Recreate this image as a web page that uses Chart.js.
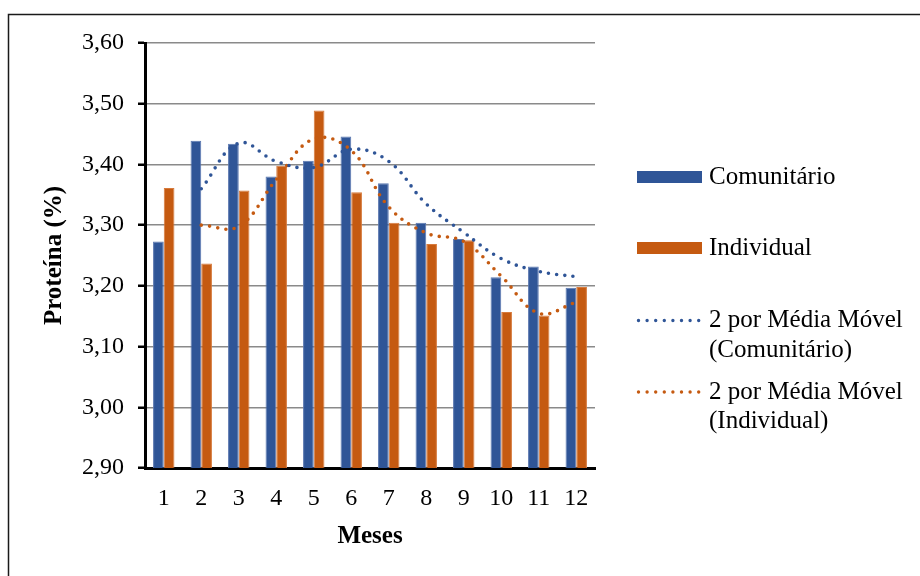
<!DOCTYPE html>
<html lang="pt">
<head>
<meta charset="utf-8">
<title>Proteína (%) por mês</title>
<script src="https://cdn.jsdelivr.net/npm/chart.js@4.4.1/dist/chart.umd.min.js"></script>
<style>
  html, body { margin: 0; padding: 0; background: #fff; }
  #wrap { width: 920px; height: 576px; position: relative; }
</style>
</head>
<body>
<div id="wrap"><canvas id="chart" width="920" height="576"></canvas></div>
<script>
// Meses do ano
const months = ['1', '2', '3', '4', '5', '6', '7', '8', '9', '10', '11', '12'];

// Teor de proteína (%) por tipo de tanque
const comunitario = [3.273, 3.439, 3.434, 3.380, 3.406, 3.446, 3.369, 3.304, 3.277, 3.214, 3.232, 3.197];
const individual  = [3.361, 3.237, 3.357, 3.398, 3.489, 3.354, 3.304, 3.269, 3.275, 3.157, 3.151, 3.198];

// Linhas de tendência: média móvel de 2 períodos
const mmComunitario = [null, 3.360, 3.435, 3.405, 3.395, 3.425, 3.405, 3.335, 3.288, 3.245, 3.224, 3.215];
const mmIndividual  = [null, 3.300, 3.298, 3.375, 3.442, 3.423, 3.330, 3.287, 3.273, 3.216, 3.155, 3.173];

// Nomes das séries (as linhas de tendência ocupam duas linhas na legenda)
const seriesNames = ['Comunitário', 'Individual'];
const trendNames = [['2 por Média Móvel', '(Comunitário)'], ['2 por Média Móvel', '(Individual)']];

// Escala do eixo de proteína
const yMin = 2.9, yMax = 3.6, yStep = 0.1;

const BLUE = '#2F5597';
const ORANGE = '#C55A11';
const SERIF = '"Liberation Serif", "Times New Roman", serif';

// Moldura e fundo branco da área do gráfico
const framePlugin = {
  id: 'frame',
  beforeDraw(chart) {
    const ctx = chart.ctx;
    ctx.save();
    ctx.fillStyle = '#fff';
    ctx.fillRect(0, 0, chart.width, chart.height);
    ctx.strokeStyle = '#1a1a1a';
    ctx.lineWidth = 1.5;
    ctx.strokeRect(8.5, 14.5, chart.width + 20, chart.height + 20);
    ctx.restore();
  }
};

// Legenda à direita com amostras de barra e de linha pontilhada
const sideLegend = {
  id: 'sideLegend',
  afterDraw(chart) {
    const ctx = chart.ctx;
    const boxX = 637, boxW = 65, textX = 709;
    const rowY = [177, 248, 320.5, 392];
    const lineGap = 29.5;
    ctx.save();
    ctx.font = '25px ' + SERIF;
    ctx.textBaseline = 'middle';
    ctx.textAlign = 'left';
    chart.data.datasets.forEach((ds, i) => {
      const y = rowY[i];
      if (ds.type === 'line') {
        ctx.save();
        ctx.strokeStyle = ds.borderColor;
        ctx.lineWidth = 3.4;
        ctx.lineCap = 'round';
        ctx.setLineDash([0, 8.6]);
        ctx.beginPath();
        ctx.moveTo(boxX + 1.5, y);
        ctx.lineTo(boxX + boxW - 3, y);
        ctx.stroke();
        ctx.restore();
      } else {
        ctx.fillStyle = ds.backgroundColor;
        ctx.fillRect(boxX, y - 6, boxW, 12);
      }
      ctx.fillStyle = '#000';
      const lines = ds.legendLines || [ds.label];
      lines.forEach((t, k) => ctx.fillText(t, textX, y + k * lineGap));
    });
    ctx.restore();
  }
};

const dotted = (color, data, names) => ({
  type: 'line',
  label: names.join(' '),
  legendLines: names,
  data: data,
  borderColor: color,
  backgroundColor: color,
  borderWidth: 3.6,
  borderCapStyle: 'round',
  borderDash: [0, 8.3],
  pointRadius: 0,
  pointHoverRadius: 0,
  tension: 0.4,
  fill: false,
  order: 0
});

const barStyle = (color, light, data, name) => ({
  type: 'bar',
  label: name,
  data: data,
  backgroundColor: color,
  borderColor: light,
  borderWidth: { left: 1, right: 1, top: 1, bottom: 0 },
  borderSkipped: 'bottom',
  barPercentage: 1,
  categoryPercentage: 0.571,
  order: 1
});

new Chart(document.getElementById('chart'), {
  data: {
    labels: months,
    datasets: [
      barStyle(BLUE, '#5a77b0', comunitario, seriesNames[0]),
      barStyle(ORANGE, '#d77a3c', individual, seriesNames[1]),
      dotted(BLUE, mmComunitario, trendNames[0]),
      dotted(ORANGE, mmIndividual, trendNames[1])
    ]
  },
  options: {
    responsive: false,
    animation: false,
    events: [],
    layout: { padding: { left: 0, top: 43, right: 325, bottom: 0 } },
    plugins: {
      legend: { display: false },
      tooltip: { enabled: false }
    },
    scales: {
      x: {
        type: 'category',
        afterFit(scale) { scale.height = 108; },
        grid: { display: false, drawTicks: false },
        border: { display: true, color: '#000', width: 3 },
        ticks: {
          color: '#000',
          font: { family: SERIF, size: 24 },
          padding: 16,
          maxRotation: 0,
          autoSkip: false
        },
        title: {
          display: true,
          text: 'Meses',
          color: '#000',
          font: { family: SERIF, size: 25, weight: 'bold' },
          padding: { top: 0, bottom: 24 }
        }
      },
      y: {
        min: yMin,
        max: yMax,
        afterFit(scale) { scale.width = 145; },
        grid: {
          color: '#8a8a8a',
          lineWidth: 1.5,
          tickColor: '#000',
          tickWidth: 2.5,
          tickLength: 7
        },
        border: { display: true, color: '#000', width: 3 },
        ticks: {
          stepSize: yStep,
          color: '#000',
          font: { family: SERIF, size: 24 },
          padding: 14,
          callback: (v) => Number(v).toFixed(2).replace('.', ',')
        },
        title: {
          display: true,
          text: 'Proteína (%)',
          color: '#000',
          font: { family: SERIF, size: 25, weight: 'bold' },
          padding: { top: 40, bottom: 0 }
        }
      }
    }
  },
  plugins: [framePlugin, sideLegend]
});
</script>
</body>
</html>
